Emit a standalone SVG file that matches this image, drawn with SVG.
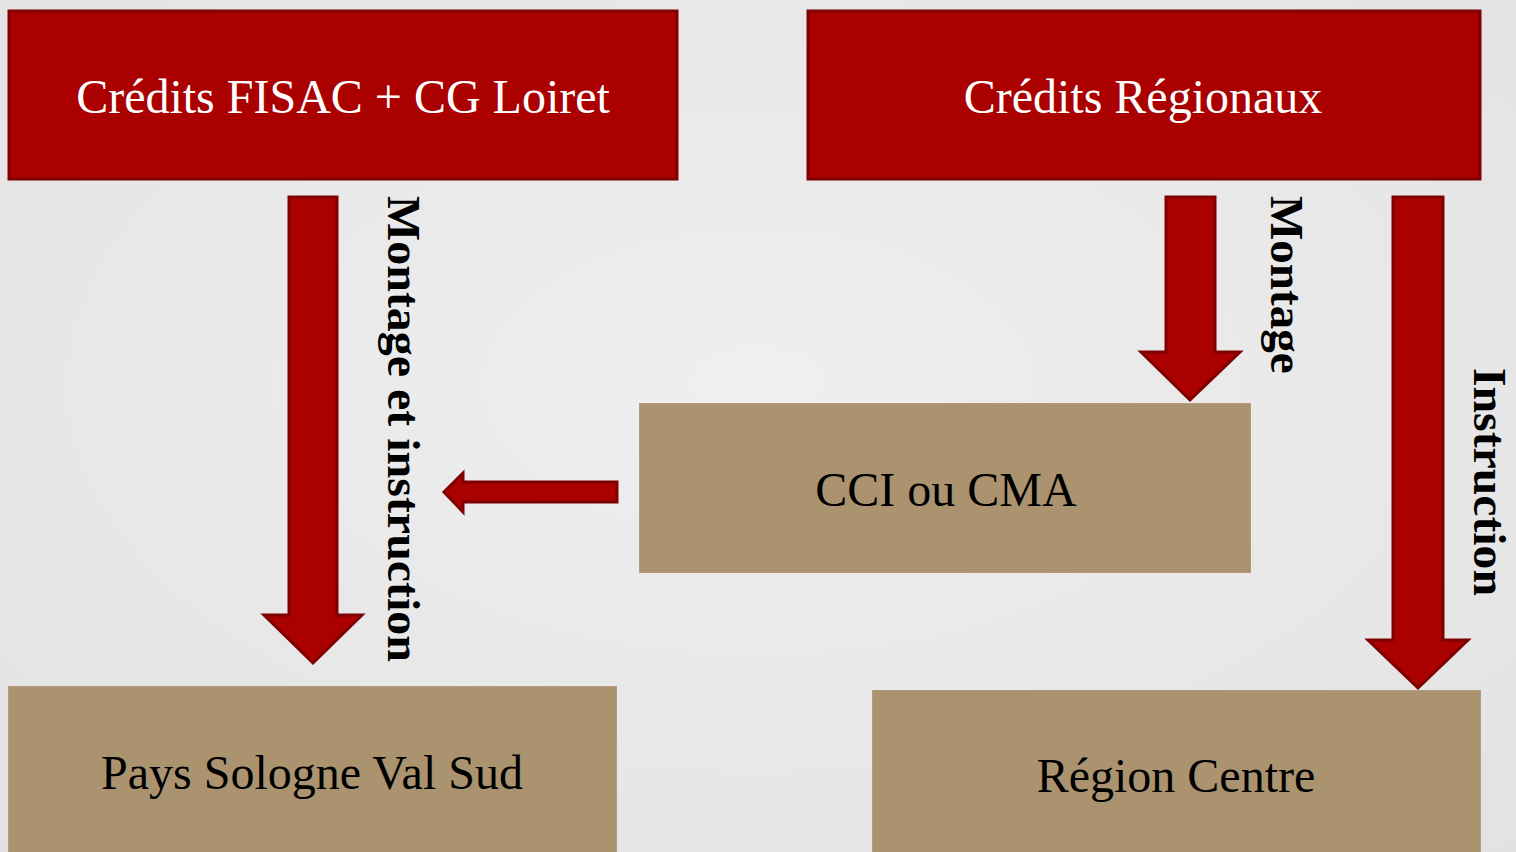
<svg xmlns="http://www.w3.org/2000/svg" width="1516" height="852" viewBox="0 0 1516 852">
<defs>
<radialGradient id="bg" cx="50%" cy="45%" r="75%">
<stop offset="0" stop-color="#efefef"/>
<stop offset="1" stop-color="#e2e2e2"/>
</radialGradient>
</defs>
<style>
.red{fill:#aa0000;stroke:#7e0000;stroke-width:3}
.tan{fill:#ab9370;stroke:#b29c7c;stroke-width:1}
.arr{fill:#aa0000;stroke:#7e0000;stroke-width:3;stroke-linejoin:miter}
.wt{font-family:"Liberation Serif","Times New Roman",serif;font-size:48px;fill:#ffffff;text-anchor:middle}
.bt{font-family:"Liberation Serif","Times New Roman",serif;font-size:48px;fill:#000000;text-anchor:middle}
.lbl{font-family:"Liberation Serif","Times New Roman",serif;font-size:47px;font-weight:bold;fill:#000000}
</style>
<rect width="1516" height="852" fill="url(#bg)"/>
<g id="connectors">
<polygon class="arr" points="289,197 337,197 337,615 362,615 313,663 264,615 289,615"/>
<polygon class="arr" points="1166,197 1215,197 1215,352 1240,352 1190,400 1141,352 1166,352"/>
<polygon class="arr" points="1393,197 1443,197 1443,640 1468,640 1418,688 1368,640 1393,640"/>
<polygon class="arr" points="617,482 617,502 463,502 463,512 444,492 463,473 463,482"/>
<text class="lbl" transform="translate(388,196) rotate(90)" textLength="466" lengthAdjust="spacingAndGlyphs">Montage et instruction</text>
<text class="lbl" transform="translate(1271,196) rotate(90)">Montage</text>
<text class="lbl" transform="translate(1474,368) rotate(90)" font-size="45" textLength="228" lengthAdjust="spacingAndGlyphs">Instruction</text>
</g>
<g id="node-fisac">
<rect class="red" x="9" y="11" width="668" height="168"/>
<text class="wt" x="343" y="113">Crédits FISAC + CG Loiret</text>
</g>
<g id="node-regionaux">
<rect class="red" x="808" y="11" width="672" height="168"/>
<text class="wt" x="1143" y="113">Crédits Régionaux</text>
</g>
<g id="node-cci">
<rect class="tan" x="639.5" y="403.5" width="611" height="169"/>
<text class="bt" x="946" y="506">CCI ou CMA</text>
</g>
<g id="node-pays">
<rect class="tan" x="8.5" y="686.5" width="608" height="170"/>
<text class="bt" x="312" y="789">Pays Sologne Val Sud</text>
</g>
<g id="node-region">
<rect class="tan" x="872.5" y="690.5" width="608" height="170"/>
<text class="bt" x="1176" y="792">Région Centre</text>
</g>
</svg>
